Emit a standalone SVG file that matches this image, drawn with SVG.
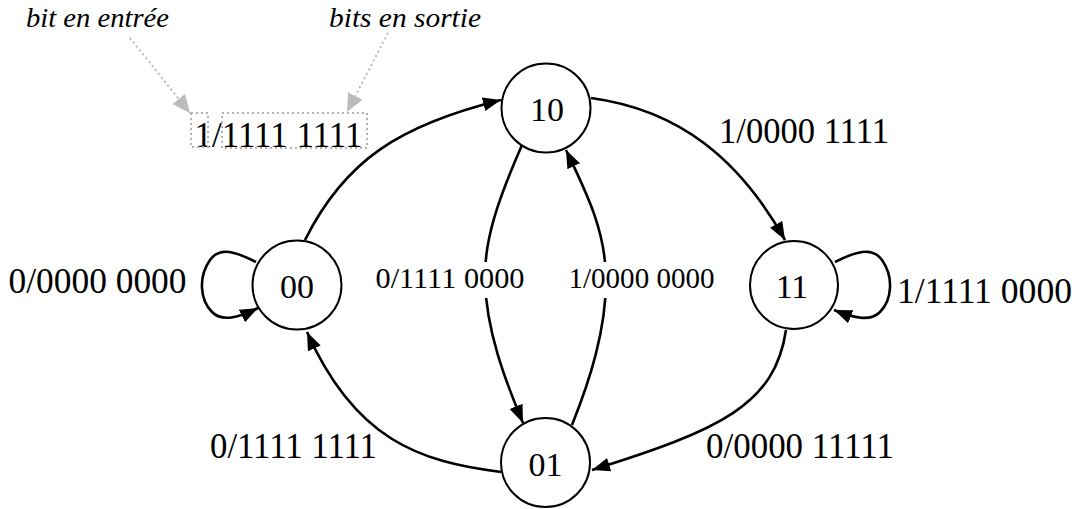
<svg xmlns="http://www.w3.org/2000/svg" width="1074" height="509" viewBox="0 0 1074 509">
<defs>
<style>
.node circle{fill:#fff;stroke:#000;stroke-width:2}
.node text,.lbl{font-family:"Liberation Serif","Times New Roman",serif;fill:#000;text-anchor:middle}
.node text{font-size:34px}
.lbl{font-size:35px}
.mid{font-size:29px}
.ann{font-family:"Liberation Serif","Times New Roman",serif;font-style:italic;font-size:28px;fill:#000;text-anchor:middle}
.edge{fill:none;stroke:#000;stroke-width:2.6;marker-end:url(#ah)}
.dot{fill:none;stroke:#b4b4b4;stroke-width:2;stroke-dasharray:2 3}
.gline{fill:none;stroke:#bbb;stroke-width:2;stroke-dasharray:2 3;marker-end:url(#gh)}
</style>
<marker id="ah" markerUnits="userSpaceOnUse" markerWidth="20" markerHeight="16" refX="18" refY="7" orient="auto">
<path d="M0,0 L18,7 L0,14 z" fill="#000"/>
</marker>
<marker id="gh" markerUnits="userSpaceOnUse" markerWidth="20" markerHeight="18" refX="18" refY="8" orient="auto">
<path d="M0,0 L18,8 L0,16 z" fill="#bbb"/>
</marker>
</defs>
<rect width="1074" height="509" fill="#fff"/>
<g id="connectors">
<path class="edge" d="M305,240 C345,160 400,125 501,100"/>
<path class="edge" d="M591,98 C680,110 740,160 785,240"/>
<path class="edge" d="M522,145 C498,200 484,240 485,280 C486,330 505,380 523,423"/>
<path class="edge" d="M572,425 C590,380 606,330 606,280 C606,230 585,190 566,150"/>
<path class="edge" d="M501,472 C420,462 355,440 307,332"/>
<path class="edge" d="M786,330 C775,405 720,430 592,470"/>
<path class="edge" d="M256,262 C236,252 220,246 210,260 C198,277 200,300 212,312 C222,322 238,318 258,308"/>
<path class="edge" d="M835,262 C855,252 872,246 882,260 C894,277 892,300 880,312 C870,322 854,318 834,310"/>
</g>
<g id="edge-labels">
<rect x="374" y="262" width="152" height="36" fill="#fff"/>
<rect x="567" y="262" width="150" height="36" fill="#fff"/>
<text class="lbl" x="278.5" y="147" textLength="168" lengthAdjust="spacingAndGlyphs">1/1111 1111</text>
<text class="lbl" x="804" y="143" textLength="170" lengthAdjust="spacingAndGlyphs">1/0000 1111</text>
<text class="lbl" x="97.5" y="293" textLength="178" lengthAdjust="spacingAndGlyphs">0/0000 0000</text>
<text class="lbl" x="984.5" y="303" textLength="175" lengthAdjust="spacingAndGlyphs">1/1111 0000</text>
<text class="lbl mid" x="450" y="288" textLength="149" lengthAdjust="spacingAndGlyphs">0/1111 0000</text>
<text class="lbl mid" x="641.5" y="288" textLength="146" lengthAdjust="spacingAndGlyphs">1/0000 0000</text>
<text class="lbl" x="293.5" y="458" textLength="167" lengthAdjust="spacingAndGlyphs">0/1111 1111</text>
<text class="lbl" x="800" y="458" textLength="188" lengthAdjust="spacingAndGlyphs">0/0000 11111</text>
</g>
<g id="annotation">
<rect class="dot" x="191" y="113" width="17" height="34"/>
<rect class="dot" x="222" y="113" width="145" height="35"/>
<path class="gline" d="M130,38 L190,113"/>
<path class="gline" d="M388,33 L347,112"/>
<text class="ann" x="97.5" y="27" textLength="143" lengthAdjust="spacingAndGlyphs">bit en entrée</text>
<text class="ann" x="405" y="27" textLength="152" lengthAdjust="spacingAndGlyphs">bits en sortie</text>
</g>
<g id="node-10" class="node"><circle cx="546" cy="108" r="44.5"/><text x="547" y="121">10</text></g>
<g id="node-00" class="node"><circle cx="297" cy="285" r="44.5"/><text x="297" y="298">00</text></g>
<g id="node-11" class="node"><circle cx="794" cy="285" r="44"/><text x="792" y="298">11</text></g>
<g id="node-01" class="node"><circle cx="545.5" cy="462.5" r="44.5"/><text x="545.5" y="476">01</text></g>
</svg>
